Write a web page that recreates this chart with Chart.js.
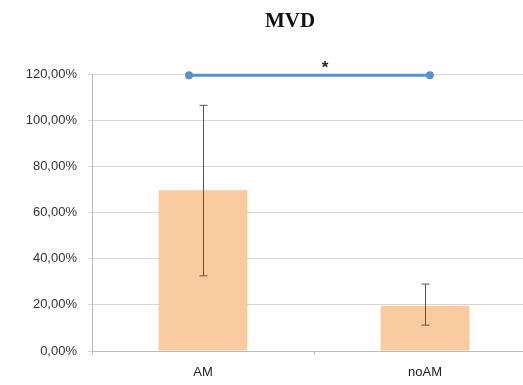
<!DOCTYPE html>
<html lang="en">
<head>
  <meta charset="UTF-8" />
  <title>MVD</title>
  <script src="https://cdn.jsdelivr.net/npm/chart.js"></script>
  <style>
    body {
      margin: 0;
      background: #fff;
      overflow: hidden;
    }
    .chart-box {
      width: 580px;
      height: 385px;
    }
  </style>
</head>
<body>

<div class="chart-box">
  <canvas id="mvdChart"></canvas>
</div>

<script>
  // values (percent)
  const categories = ['AM', 'noAM'];
  const meanValues = [69.7, 19.6];
  const errLow = [32.6, 11.2];
  const errHigh = [106.5, 29];
  const yTicks = [0, 20, 40, 60, 80, 100, 120];

  // significance bracket (x in category units on a hidden linear axis)
  const sigX = [-0.063, 1.022];
  const sigY = [119.5, 119.5];
  const sigLabel = '*';
  const sigLabelX = 0.55;

  function fmtPct(v) {
    return v.toFixed(2).replace('.', ',') + '%';
  }

  // draws the error bars and the asterisk
  const extras = {
    id: 'extras',
    afterDatasetsDraw(chart) {
      const ctx = chart.ctx;
      const x = chart.scales.x;
      const y = chart.scales.y;
      ctx.save();
      ctx.strokeStyle = '#555';
      ctx.lineWidth = 1;
      for (let i = 0; i < categories.length; i++) {
        const px = Math.round(x.getPixelForValue(i)) + 0.5;
        const top = y.getPixelForValue(errHigh[i]);
        const bot = y.getPixelForValue(errLow[i]);
        ctx.beginPath();
        ctx.moveTo(px, top);
        ctx.lineTo(px, bot);
        ctx.moveTo(px - 4, top);
        ctx.lineTo(px + 4, top);
        ctx.moveTo(px - 4, bot);
        ctx.lineTo(px + 4, bot);
        ctx.stroke();
      }
      const xs = chart.scales.xs;
      ctx.fillStyle = '#222';
      ctx.font = 'bold 17px "Liberation Sans", Arial, sans-serif';
      ctx.textAlign = 'center';
      ctx.textBaseline = 'middle';
      ctx.fillText(sigLabel, xs.getPixelForValue(sigLabelX), y.getPixelForValue(sigY[0]) - 7);
      ctx.restore();
    }
  };

  new Chart(document.getElementById('mvdChart'), {
    type: 'bar',
    data: {
      labels: categories,
      datasets: [
        {
          type: 'line',
          data: sigX.map((v, i) => ({ x: v, y: sigY[i] })),
          xAxisID: 'xs',
          borderColor: '#5b8fcf',
          backgroundColor: '#5b8fcf',
          borderWidth: 3,
          pointRadius: 4,
          pointBorderWidth: 0,
          clip: false,
          order: 0
        },
        {
          label: 'MVD',
          data: meanValues,
          xAxisID: 'x',
          backgroundColor: 'rgb(250,202,160)',
          barPercentage: 0.4,
          categoryPercentage: 1,
          grouped: false,
          order: 1
        }
      ]
    },
    options: {
      responsive: true,
      maintainAspectRatio: false,
      animation: false,
      layout: { padding: 0 },
      plugins: {
        legend: { display: false },
        tooltip: { enabled: false },
        title: {
          display: true,
          text: 'MVD',
          color: '#111',
          font: { family: '"Liberation Serif", "Times New Roman", serif', size: 21, weight: 'bold' },
          padding: { top: 9, bottom: 40 }
        }
      },
      scales: {
        x: {
          offset: true,
          grid: {
            display: true,
            drawOnChartArea: false,
            offset: true,
            tickLength: 4,
            color: '#bbb'
          },
          border: { color: '#bbb' },
          ticks: {
            color: '#222',
            padding: 10,
            font: { family: '"Liberation Sans", Arial, sans-serif', size: 13 }
          },
          afterFit(scale) { scale.height = 34; }
        },
        xs: {
          type: 'linear',
          display: false,
          offset: false,
          grid: { offset: false },
          min: -0.5,
          max: 1.5
        },
        y: {
          min: 0,
          max: 120,
          afterBuildTicks(scale) {
            scale.ticks = yTicks.map(v => ({ value: v }));
          },
          grid: {
            color: '#d6d6d6',
            tickLength: 4
          },
          border: { color: '#bbb' },
          ticks: {
            color: '#333',
            padding: 11,
            font: { family: '"Liberation Sans", Arial, sans-serif', size: 13 },
            callback: v => fmtPct(v)
          },
          afterFit(scale) { scale.width = 92; }
        },
        // empty right-hand spacer so the plot runs past the window edge
        yr: {
          position: 'right',
          min: 0,
          max: 120,
          grid: { display: false },
          border: { display: false },
          ticks: { display: false },
          afterFit(scale) { scale.width = 44; }
        }
      }
    },
    plugins: [extras]
  });
</script>

</body>
</html>
